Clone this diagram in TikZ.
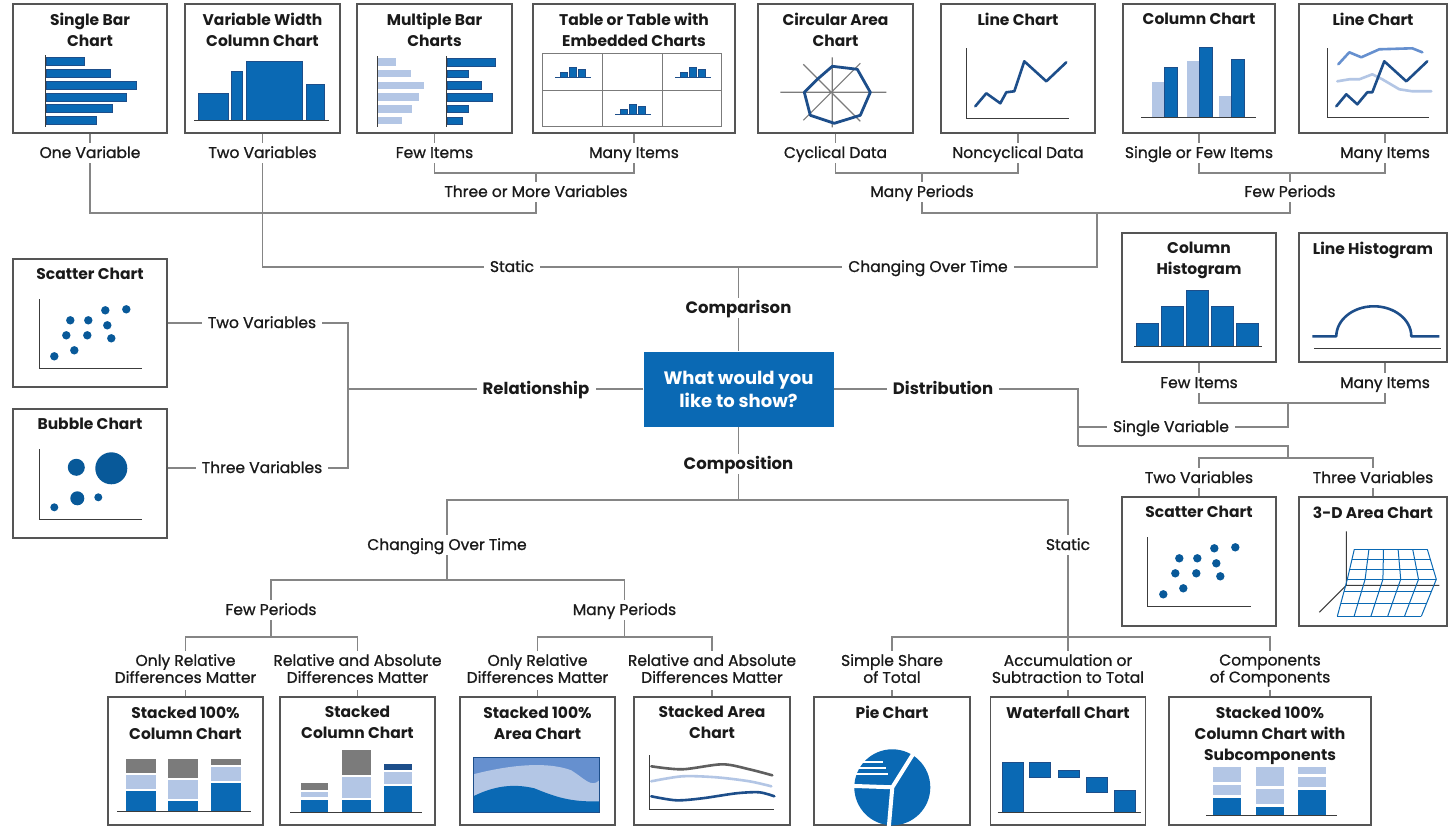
\documentclass[tikz,border=0pt]{standalone}
\usepackage{fontspec}
\setmainfont{Poppins}
\newfontfamily\labfamily{Poppins}[FakeBold=1.0]
\definecolor{ink}{HTML}{1A1A1A}
\definecolor{boxgray}{HTML}{555555}
\definecolor{linegray}{HTML}{858585}
\definecolor{cblue}{HTML}{0A69B4}
\definecolor{dblue}{HTML}{1D4E8A}
\definecolor{lblue}{HTML}{B3C6E5}
\definecolor{mblue}{HTML}{6690CF}
\definecolor{cgray}{HTML}{7B7B7B}
\newcommand\labfont{\labfamily\fontsize{15.5}{17}\selectfont}
\newcommand\ttlfont{\fontsize{15.5}{21}\selectfont\bfseries}
\newcommand\catfont{\fontsize{16.5}{17}\selectfont\bfseries}
% ten dots, shared by both scatter charts
\newcommand\scatterdots{%
  \foreach \x/\y in {42/98,62/92,54/77,75/77,99/80,58/62,76/62,95/67,93/52,114/51}
    \fill[scatdot] (\x,\y) circle (4.2pt);}
\tikzset{
  chartbox/.style={draw=boxgray, line width=1.4pt, fill=white, minimum height=129pt, inner sep=0pt},
  ttl/.style={font=\ttlfont, text=ink, align=center, anchor=north, inner sep=0pt},
  lab2/.style={font=\labfont, text=ink, align=center, inner xsep=6pt, inner ysep=3pt, text depth=4pt},
  lab/.style={lab2, text height=12pt, text depth=2pt},
  cat/.style={lab, font=\catfont},
  conn/.style={draw=linegray, line width=1.3pt},
  chartaxis/.style={draw=ink!85, line width=1.2pt},
  minibar/.style={fill=cblue, draw=dblue, line width=0.5pt},
  scatdot/.style={fill=cblue!85!black},
  chartline/.style={draw=dblue, line width=2.6pt, line join=round, line cap=round},
  tbl/.style={draw=cgray, line width=1.5pt},
  grid3d/.style={draw=cblue, line width=1pt},
}
\begin{document}
\begin{tikzpicture}[x=1pt,y=-1pt]
\useasboundingbox (0,0) rectangle (1448,826);
\clip (0,0) rectangle (1448,826);
\fill[white] (0,0) rectangle (1448,826);

% centre question
\node[fill=cblue, minimum width=190pt, minimum height=75pt, text=white,
      font=\fontsize{18}{23}\selectfont\bfseries, align=center] (q) at (738.5,389) {What would you\\like to show?};

% ---------------- comparison: top row
\node[chartbox, minimum width=154pt] (sbar)  at (90,68.5) {};
\node[chartbox, minimum width=155pt] (vwcol) at (262.5,68.5) {};
\node[chartbox, minimum width=155pt] (mbar)  at (434.5,68.5) {};
\node[chartbox, minimum width=202pt] (table) at (634,68.5) {};
\node[chartbox, minimum width=155pt] (circ)  at (835.5,68.5) {};
\node[chartbox, minimum width=154pt] (linec) at (1018,68.5) {};
\node[chartbox, minimum width=152pt] (colc)  at (1199,68.5) {};
\node[chartbox, minimum width=148pt] (linem) at (1373,68.5) {};
\node[ttl] (t-sbar)  at ([yshift=-10pt]sbar.north)  {Single Bar\\Chart};
\node[ttl] (t-vwcol) at ([yshift=-10pt]vwcol.north) {Variable Width\\Column Chart};
\node[ttl] (t-mbar)  at ([yshift=-10pt]mbar.north)  {Multiple Bar\\Charts};
\node[ttl] (t-table) at ([yshift=-10pt]table.north) {Table or Table with\\Embedded Charts};
\node[ttl] (t-circ)  at ([yshift=-10pt]circ.north)  {Circular Area\\Chart};
\node[ttl] (t-linec) at ([yshift=-10pt]linec.north) {Line Chart};
\node[ttl] (t-colc)  at ([yshift=-10pt]colc.north)  {Column Chart};
\node[ttl] (t-linem) at ([yshift=-10pt]linem.north) {Line Chart};

\begin{scope}[shift={(sbar.north west)}]
  \foreach \y/\l in {54/72,66/98,78/124,90/114,101/100,113/84}
    \filldraw[minibar] (34,\y) rectangle (\l,\y+7.5);
  \draw[chartaxis] (33,52) -- (33,124);
\end{scope}
\begin{scope}[shift={(vwcol.north west)}]
  \foreach \a/\b/\t in {14/44/90,47/58/68,62/118/58,122/140/81}
    \filldraw[minibar] (\a,\t) rectangle (\b,117);
  \draw[chartaxis] (10,117) -- (145,117);
\end{scope}
\begin{scope}[shift={(mbar.north west)}]
  \foreach \i/\l/\d in {0/40/139,1/55/112,2/68/125,3/63/136,4/56/112,5/46/106} {
    \fill[lblue] (22,55+11.7*\i) rectangle (\l,62.5+11.7*\i);
    \filldraw[minibar] (91,55+11.7*\i) rectangle (\d,62.5+11.7*\i);
  }
  \draw[chartaxis] (21,53) -- (21,124);
  \draw[chartaxis] (90,53) -- (90,124);
\end{scope}
\begin{scope}[shift={(table.north west)}]
  \draw[tbl] (10,50) rectangle (189,123);
  \draw[tbl] (10,87) -- (189,87) (70,50) -- (70,123) (130,50) -- (130,123);
  \foreach \cx/\cy in {41/74,161/74,101/111} {
    \begin{scope}[shift={(\cx,\cy)}]
      \filldraw[minibar] (-13,0) rectangle (-6,-5);
      \filldraw[minibar] (-4,0) rectangle (3,-10);
      \filldraw[minibar] (5,0) rectangle (12,-8);
      \draw[dblue, line width=1.3pt] (-18,0) -- (18,0);
    \end{scope}
  }
\end{scope}
\begin{scope}[shift={(circ.north west)}, shift={(75,89)}]
  \draw[cgray, line width=1.2pt] (-52,0) -- (54,0) (0,-35) -- (0,35) (-29,-28) -- (28,29) (28,-29) -- (-29,28);
  \draw[chartline, line width=2.8pt] (0,-26) -- (25,-23) -- (38,0) -- (28,23) -- (2,31) -- (-22,23) -- (-28,0) -- (-15,-13) -- cycle;
\end{scope}
\begin{scope}[shift={(linec.north west)}]
  \draw[chartaxis] (26,45) -- (26,115) -- (129,115);
  \draw[chartline] (35,103) -- (46,90) -- (60,100) -- (66,89) -- (74,88) -- (84,58) -- (106,78) -- (126,59);
\end{scope}
\begin{scope}[shift={(colc.north west)}]
  \foreach \a/\t/\u in {30/79/64,65/58/44,97/93/56} {
    \fill[lblue] (\a,\t) rectangle (\a+12,114);
    \filldraw[minibar] (\a+12,\u) rectangle (\a+25,114);
  }
  \draw[chartaxis] (19,114) -- (134,114);
\end{scope}
\begin{scope}[shift={(linem.north west)}]
  \draw[chartaxis] (29,45) -- (29,114) -- (131,114);
  \draw[chartline, draw=mblue] (40,61) -- (51,49) -- (63,54) -- (81,46) -- (114,45) -- (124,49);
  \draw[chartline, draw=lblue] (39,78) -- (51,76) -- (61,76) -- (74,71) -- (84,76) -- (101,86) -- (114,88) -- (133,88);
  \draw[chartline] (38,103) -- (48,91) -- (59,101) -- (69,89) -- (74,89) -- (86,58) -- (108,78) -- (129,58);
\end{scope}

\node[lab] (l-one)    at (90,153)    {One Variable};
\node[lab] (l-two)    at (262.5,153) {Two Variables};
\node[lab] (l-few)    at (434.5,153) {Few Items};
\node[lab] (l-many)   at (634,153)   {Many Items};
\node[lab] (l-cyc)    at (835.5,153) {Cyclical Data};
\node[lab] (l-noncyc) at (1018,153)  {Noncyclical Data};
\node[lab] (l-single) at (1199,153)  {Single or Few Items};
\node[lab] (l-many2)  at (1385,153)  {Many Items};
\node[lab] (l-three)  at (536,192)   {Three or More Variables};
\node[lab] (l-manyp)  at (922,192)   {Many Periods};
\node[lab] (l-fewp)   at (1290,192)  {Few Periods};
\node[lab] (l-static) at (512,267)   {Static};
\node[lab] (l-chg)    at (928,267)   {Changing Over Time};
\node[cat] (l-comp)   at (738.5,308) {Comparison};
\coordinate (j-three) at (536,173);
\coordinate (j-var)   at (536,213);
\coordinate (j-manyp) at (922,173);
\coordinate (j-fewp)  at (1290,173);
\coordinate (j-per)   at (1097,213);
\coordinate (j-top)   at (738.5,267);

\foreach \b/\l in {sbar/l-one,vwcol/l-two,mbar/l-few,table/l-many,circ/l-cyc,linec/l-noncyc,colc/l-single}
  \draw[conn] (\b) -- (\l);
\draw[conn] (l-many2 |- linem.south) -- (l-many2);
\draw[conn] (l-few) |- (j-three) -| (l-many);
\draw[conn] (j-three) -- (l-three);
\draw[conn] (l-three) -- (j-var) -| (l-one);
\draw[conn] (l-two) |- (l-static);
\draw[conn] (l-cyc) |- (j-manyp) -| (l-noncyc);
\draw[conn] (j-manyp) -- (l-manyp);
\draw[conn] (l-single) |- (j-fewp) -| (l-many2);
\draw[conn] (j-fewp) -- (l-fewp);
\draw[conn] (l-manyp) |- (j-per) -| (l-fewp);
\draw[conn] (l-chg) -| (j-per);
\draw[conn] (l-static) -- (l-chg);
\draw[conn] (j-top) -- (l-comp) -- (q);

% ---------------- relationship
\node[chartbox, minimum width=154pt, minimum height=128pt] (scat) at (90,323) {};
\node[chartbox, minimum width=154pt] (bub) at (90,473.5) {};
\node[ttl] (t-scat) at ([yshift=-10pt]scat.north) {Scatter Chart};
\node[ttl] (t-bub)  at ([yshift=-10pt]bub.north)  {Bubble Chart};
\begin{scope}[shift={(scat.north west)}]
  \draw[chartaxis] (27,41) -- (27,110) -- (130,110);
  \scatterdots
\end{scope}
\begin{scope}[shift={(bub.north west)}]
  \draw[chartaxis] (27,41) -- (27,111) -- (130,111);
  \foreach \x/\y/\r in {64/59/8.5,99/60/16,65/90/7,86/89/4,42/99/4}
    \fill[scatdot] (\x,\y) circle (\r pt);
\end{scope}
\node[lab] (l-tv)  at (262,323) {Two Variables};
\node[lab] (l-thv) at (262,468) {Three Variables};
\node[cat] (l-rel) at (536,389) {Relationship};
\coordinate (j-rt)  at (348,323);
\coordinate (j-rb)  at (348,468);
\coordinate (j-rel) at (348,389);
\draw[conn] (scat) -- (l-tv);
\draw[conn] (bub.east |- l-thv) -- (l-thv);
\draw[conn] (l-tv) -- (j-rt) -- (j-rb) -- (l-thv);
\draw[conn] (q) -- (l-rel) -- (j-rel);

% ---------------- distribution
\node[chartbox, minimum width=154pt] (chist) at (1199,297.5) {};
\node[chartbox, minimum width=148pt] (lhist) at (1373,297.5) {};
\node[chartbox, minimum width=154pt] (scat2) at (1199,561.5) {};
\node[chartbox, minimum width=148pt] (area3) at (1373,561.5) {};
\node[ttl] (t-chist) at ([yshift=-10pt]chist.north) {Column\\Histogram};
\node[ttl] (t-lhist) at ([yshift=-10pt]lhist.north) {Line Histogram};
\node[ttl] (t-scat2) at ([yshift=-10pt]scat2.north) {Scatter Chart};
\node[ttl] (t-area3) at ([yshift=-10pt]area3.north) {3-D Area Chart};
\begin{scope}[shift={(chist.north west)}]
  \foreach \a/\t in {15/91,40/74,65/58,90/74,115/91}
    \filldraw[minibar] (\a,\t) rectangle (\a+22,114);
  \draw[chartaxis] (13,114) -- (141,114);
\end{scope}
\begin{scope}[shift={(lhist.north west)}]
  \draw[chartaxis] (16,116) -- (143,116);
  \draw[chartline, line cap=butt] (14,104) -- (38,104) arc[start angle=180, end angle=0, x radius=37.5pt, y radius=30pt] -- (141,104);
\end{scope}
\begin{scope}[shift={(scat2.north west)}]
  \draw[chartaxis] (26,41) -- (26,110) -- (130,110);
  \scatterdots
\end{scope}
\begin{scope}[shift={(area3.north west)}]
  \draw[chartaxis, line width=1pt] (48,35) -- (48,89) -- (21,116) (48,89) -- (141,89);
  \foreach \i in {0,...,5}
    \draw[grid3d] ({56+14.6*\i},53) -- ({49+17.8*\i},83) -- ({39+16.8*\i},120);
  \foreach \s in {0,1,2,3} {
    \draw[grid3d] ({56-7*\s/3},{53+10*\s}) -- ({129+3*\s},{53+10*\s});
    \draw[grid3d] ({49-10*\s/3},{83+37*\s/3}) -- ({138-5*\s},{83+37*\s/3});
  }
\end{scope}
\node[cat] (l-dist) at (943,389)  {Distribution};
\node[lab] (l-fh)   at (1199,383) {Few Items};
\node[lab] (l-mh)   at (1385,383) {Many Items};
\node[lab] (l-sv)   at (1171,427) {Single Variable};
\node[lab] (l-2v)   at (1199,478) {Two Variables};
\node[lab] (l-3v)   at (1373,478) {Three Variables};
\coordinate (j-d2)   at (1078,446);
\coordinate (j-hist) at (1288,403);
\coordinate (j-23)   at (1288,458);
\draw[conn] (q) -- (l-dist) -| (j-d2);
\draw[conn] (j-d2 |- l-sv) -- (l-sv) -| (j-hist);
\draw[conn] (chist) -- (l-fh);
\draw[conn] (l-mh |- lhist.south) -- (l-mh);
\draw[conn] (l-fh) |- (j-hist) -| (l-mh);
\draw[conn] (j-d2) -| (j-23);
\draw[conn] (l-2v) |- (j-23) -| (l-3v);
\draw[conn] (l-2v) -- (scat2);
\draw[conn] (l-3v) -- (area3);

% ---------------- composition
\node[cat] (l-compo) at (738.5,464) {Composition};
\node[lab] (l-cot) at (447,545)    {Changing Over Time};
\node[lab] (l-st)  at (1068,545)   {Static};
\node[lab] (l-fp)  at (271,610)    {Few Periods};
\node[lab] (l-mp)  at (624.5,610)  {Many Periods};
\node[lab2] (l-or1) at (185.5,670.5) {Only Relative\\Differences Matter};
\node[lab2] (l-ra1) at (357.5,670.5) {Relative and Absolute\\Differences Matter};
\node[lab2] (l-or2) at (537.5,670.5) {Only Relative\\Differences Matter};
\node[lab2] (l-ra2) at (712,670.5)   {Relative and Absolute\\Differences Matter};
\node[lab2] (l-sh)  at (892,670.5)   {Simple Share\\of Total};
\node[lab2] (l-ac)  at (1068,670.5)  {Accumulation or\\Subtraction to Total};
\node[lab2] (l-cc)  at (1270,670.5)  {Components\\of Components};
\coordinate (j-compo) at (738.5,500);
\coordinate (j-cot)   at (447,580);
\coordinate (j-fp)    at (271,637);
\coordinate (j-mp)    at (624.5,637);
\coordinate (j-st)    at (1068,637);
\draw[conn] (q) -- (l-compo) -- (j-compo);
\draw[conn] (l-cot) |- (j-compo) -| (l-st);
\draw[conn] (l-cot) -- (j-cot);
\draw[conn] (l-fp) |- (j-cot) -| (l-mp);
\draw[conn] (l-fp) -- (j-fp);
\draw[conn] (l-or1) |- (j-fp) -| (l-ra1);
\draw[conn] (l-mp) -- (j-mp);
\draw[conn] (l-or2) |- (j-mp) -| (l-ra2);
\draw[conn] (l-st) -- (l-ac);
\draw[conn] (l-sh) |- (j-st) -| (l-cc);

\node[chartbox, minimum width=155pt, minimum height=128pt] (bs100) at (185.5,761) {};
\node[chartbox, minimum width=155pt, minimum height=128pt] (bstk)  at (357.5,761) {};
\node[chartbox, minimum width=155pt, minimum height=128pt] (ba100) at (537.5,761) {};
\node[chartbox, minimum width=156pt, minimum height=128pt] (barea) at (712,761) {};
\node[chartbox, minimum width=156pt, minimum height=128pt] (bpie)  at (892,761) {};
\node[chartbox, minimum width=155pt, minimum height=128pt] (bwat)  at (1068,761) {};
\node[chartbox, minimum width=202pt, minimum height=128pt] (bsub)  at (1270,761) {};
\node[ttl] (t-bs100) at ([yshift=-10pt]bs100.north) {Stacked 100\%\\Column Chart};
\node[ttl] (t-bstk)  at ([yshift=-10pt]bstk.north)  {Stacked\\Column Chart};
\node[ttl] (t-ba100) at ([yshift=-10pt]ba100.north) {Stacked 100\%\\Area Chart};
\node[ttl] (t-barea) at ([yshift=-10pt]barea.north) {Stacked Area\\Chart};
\node[ttl] (t-bpie)  at ([yshift=-10pt]bpie.north)  {Pie Chart};
\node[ttl] (t-bwat)  at ([yshift=-10pt]bwat.north)  {Waterfall Chart};
\node[ttl] (t-bsub)  at ([yshift=-10pt]bsub.north)  {Stacked 100\%\\Column Chart with\\Subcomponents};
\foreach \l/\b in {l-or1/bs100,l-ra1/bstk,l-or2/ba100,l-ra2/barea,l-sh/bpie,l-ac/bwat,l-cc/bsub}
  \draw[conn] (\l) -- (\b);

\begin{scope}[shift={(bs100.north west)}]
  \foreach \a/\p/\r in {19/78/94,61/83/104,104/70/86} {
    \fill[cgray] (\a,63) rectangle (\a+30,\p-1);
    \fill[lblue] (\a,\p+1) rectangle (\a+30,\r-1);
    \fill[cblue] (\a,\r+1) rectangle (\a+30,115);
  }
  \draw[chartaxis] (10,115) -- (144,115);
\end{scope}
\begin{scope}[shift={(bstk.north west)}]
  \fill[cgray] (22,87) rectangle (49,94);
  \fill[lblue] (22,96) rectangle (49,101);
  \fill[cblue] (22,104) rectangle (49,116);
  \fill[cgray] (63,54) rectangle (92,79);
  \fill[lblue] (63,81) rectangle (92,102);
  \fill[cblue] (63,104) rectangle (92,116);
  \fill[dblue] (105,68) rectangle (133,74);
  \fill[lblue] (105,76) rectangle (133,88);
  \fill[cblue] (105,90) rectangle (133,116);
  \draw[chartaxis] (11,116) -- (143,116);
\end{scope}
\begin{scope}[shift={(ba100.north west)}]
  \fill[mblue] (14,61) rectangle (140,116);
  \fill[lblue] (14,78) .. controls (45,70) and (85,64) .. (112,74) .. controls (125,82) and (132,92) .. (140,84) -- (140,116) -- (14,116) -- cycle;
  \fill[cblue] (14,100) .. controls (30,92) and (50,86) .. (75,92) .. controls (95,100) and (110,106) .. (140,105) -- (140,116) -- (14,116) -- cycle;
  \draw[dblue, line width=1pt] (14,61) rectangle (140,116);
\end{scope}
\begin{scope}[shift={(barea.north west)}]
  \draw[chartaxis] (16,59) -- (16,113) -- (141,113);
  \draw[chartline, draw=ink!70] plot[smooth] coordinates {(18,70) (49,73) (89,68) (116,73) (139,79)};
  \draw[chartline, draw=lblue] plot[smooth] coordinates {(18,85) (49,80) (83,81) (116,85) (138,90)};
  \draw[chartline] plot[smooth] coordinates {(18,100) (43,104) (69,102) (103,97) (126,96) (141,100)};
\end{scope}
\begin{scope}[shift={(bpie.north west)}, shift={(79,91)}]
  \fill[cblue] (0,0) circle (38pt);
  \draw[white, line width=4pt] (0,0) -- (58:41pt) (0,0) -- (-95:41pt) (0,0) -- (178:41pt);
  \draw[white, line width=2.2pt] (-41,-13) -- (-4,-13) (-41,-19) -- (-6,-19) (-41,-25) -- (-9,-25);
\end{scope}
\begin{scope}[shift={(bwat.north west)}]
  \foreach \a/\t/\b in {12/66/116,39/66/81,68/74/81,96/81/96,124/94/116}
    \filldraw[minibar] (\a,\t) rectangle (\a+21,\b);
  \draw[chartaxis] (8,116) -- (151,116);
\end{scope}
\begin{scope}[shift={(bsub.north west)}]
  \foreach \a/\p/\r/\s in {45/86/89/102,88/90/93/111,130/78/81/94} {
    \fill[lblue] (\a,71) rectangle (\a+28,\p);
    \fill[lblue] (\a,\r) rectangle (\a+28,\s-3);
    \fill[cblue] (\a,\s) rectangle (\a+28,119);
  }
  \draw[chartaxis] (38,119) -- (169,119);
\end{scope}
\end{tikzpicture}
\end{document}
